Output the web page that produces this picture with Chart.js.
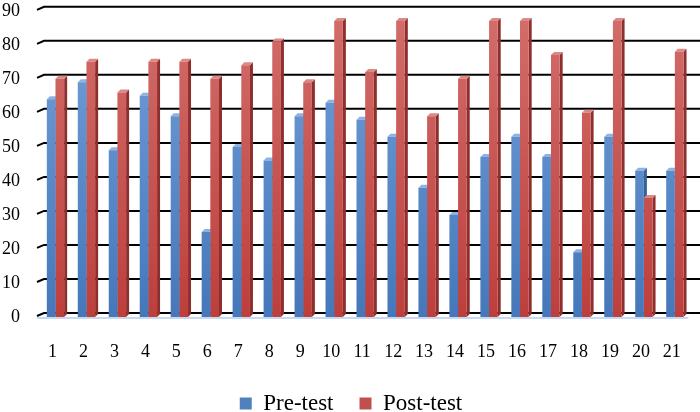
<!DOCTYPE html>
<html>
<head>
<meta charset="utf-8">
<script src="https://cdn.jsdelivr.net/npm/chart.js@4.4.1/dist/chart.umd.min.js"></script>
<style>
  html, body { margin: 0; padding: 0; background: #fff; }
  #wrap { width: 700px; height: 412px; }
</style>
</head>
<body>
<div id="wrap"><canvas id="chart" width="700" height="412"></canvas></div>
<script>
// data
const labels = ['1','2','3','4','5','6','7','8','9','10','11','12','13','14','15','16','17','18','19','20','21'];
const preTest = [64, 69, 49, 65, 59, 25, 50, 46, 59, 63, 58, 53, 38, 30, 47, 53, 47, 19, 53, 43, 43];
const postTest = [70, 75, 66, 75, 75, 70, 74, 81, 69, 87, 72, 87, 59, 70, 87, 87, 77, 60, 87, 35, 78];
const yTicks = [0, 10, 20, 30, 40, 50, 60, 70, 80, 90];

const blue = { top: '#73a0d8', bottom: '#4577ba', side: '#37609a', cap: '#8db3e2', solid: '#4f81bd' };
const red = { top: '#d26e6b', bottom: '#bd3f3c', side: '#8f2f2d', cap: '#dc8986', solid: '#c0504d' };

const DX = 3, DY = 3; // depth of the bars

function barGradient(col) {
    return function (context) {
        const chart = context.chart;
        const area = chart.chartArea;
        if (!area) return col.solid;
        const g = chart.ctx.createLinearGradient(0, area.top, 0, area.bottom);
        g.addColorStop(0, col.top);
        g.addColorStop(1, col.bottom);
        return g;
    };
}

// back wall grid lines + bar sides, drawn before the bar fronts
const wall3d = {
    id: 'wall3d',
    afterInit(chart) {
        // keep the legend short so it sits at the very bottom
        const lg = chart.legend;
        const fit = lg.fit.bind(lg);
        lg.fit = function () { fit(); this.height = 46; };
    },
    afterLayout(chart) {
        chart.legend.left += 4;
        chart.legend.right += 4;
    },
    beforeDatasetsDraw(chart) {
        const ctx = chart.ctx;
        const y = chart.scales.y;
        const area = chart.chartArea;
        ctx.save();
        // grid lines on the back wall
        ctx.strokeStyle = '#000';
        ctx.lineWidth = 2;
        yTicks.forEach(v => {
            const py = y.getPixelForValue(v);
            ctx.beginPath();
            ctx.moveTo(area.left - 3, py - 1);
            ctx.lineTo(area.left + 4, py - 4);
            ctx.lineTo(chart.width, py - 4);
            ctx.stroke();
        });
        // floor edge
        ctx.strokeStyle = '#c6d9f1';
        ctx.lineWidth = 2;
        ctx.beginPath();
        ctx.moveTo(area.left - 3, y.getPixelForValue(0) + 1);
        ctx.lineTo(area.right - 2, y.getPixelForValue(0) + 1);
        ctx.stroke();

        // sides and tops of the bars
        [blue, red].forEach((col, di) => {
            const meta = chart.getDatasetMeta(di);
            meta.data.forEach(bar => {
                const p = bar.getProps(['x', 'y', 'base', 'width'], true);
                const l = p.x - p.width / 2, r = p.x + p.width / 2;
                ctx.fillStyle = col.side;
                ctx.beginPath();
                ctx.moveTo(r, p.y);
                ctx.lineTo(r + DX, p.y - DY);
                ctx.lineTo(r + DX, p.base - DY);
                ctx.lineTo(r, p.base);
                ctx.closePath();
                ctx.fill();
                ctx.fillStyle = col.cap;
                ctx.beginPath();
                ctx.moveTo(l, p.y);
                ctx.lineTo(l + DX, p.y - DY);
                ctx.lineTo(r + DX, p.y - DY);
                ctx.lineTo(r, p.y);
                ctx.closePath();
                ctx.fill();
            });
        });
        ctx.restore();
    }
};

const serif = '"Liberation Serif", "Times New Roman", serif';

new Chart(document.getElementById('chart'), {
    type: 'bar',
    data: {
        labels: labels,
        datasets: [
            { label: 'Pre-test', data: preTest, backgroundColor: barGradient(blue), borderWidth: 0 },
            { label: 'Post-test', data: postTest, backgroundColor: barGradient(red), borderWidth: 0 }
        ]
    },
    options: {
        responsive: false,
        animation: false,
        layout: { padding: { top: 0, right: 6, left: 0, bottom: 0 } },
        datasets: { bar: { categoryPercentage: 0.56, barPercentage: 1.0 } },
        scales: {
            x: {
                grid: { display: false },
                border: { display: false },
                ticks: { color: '#000', font: { family: serif, size: 18 }, padding: 16, labelOffset: -3, maxRotation: 0, autoSkip: false },
                afterFit(axis) { axis.height = 49; }
            },
            y: {
                min: 0,
                max: 90,
                grid: { display: false, tickLength: 20 },
                border: { display: false },
                ticks: { stepSize: 10, color: '#000', font: { family: serif, size: 18 }, padding: 0 },
                afterFit(axis) { axis.width = 40; }
            }
        },
        plugins: {
            tooltip: { enabled: false },
            legend: {
                position: 'bottom',
                labels: {
                    color: '#000',
                    font: { family: serif, size: 23 },
                    boxWidth: 12,
                    boxHeight: 12,
                    padding: 26,
                    generateLabels(chart) {
                        return chart.data.datasets.map((ds, i) => ({
                            text: ds.label,
                            fillStyle: i === 0 ? blue.solid : red.solid,
                            strokeStyle: i === 0 ? blue.solid : red.solid,
                            lineWidth: 0,
                            hidden: !chart.isDatasetVisible(i),
                            datasetIndex: i
                        }));
                    }
                }
            }
        }
    },
    plugins: [wall3d]
});
</script>
</body>
</html>
